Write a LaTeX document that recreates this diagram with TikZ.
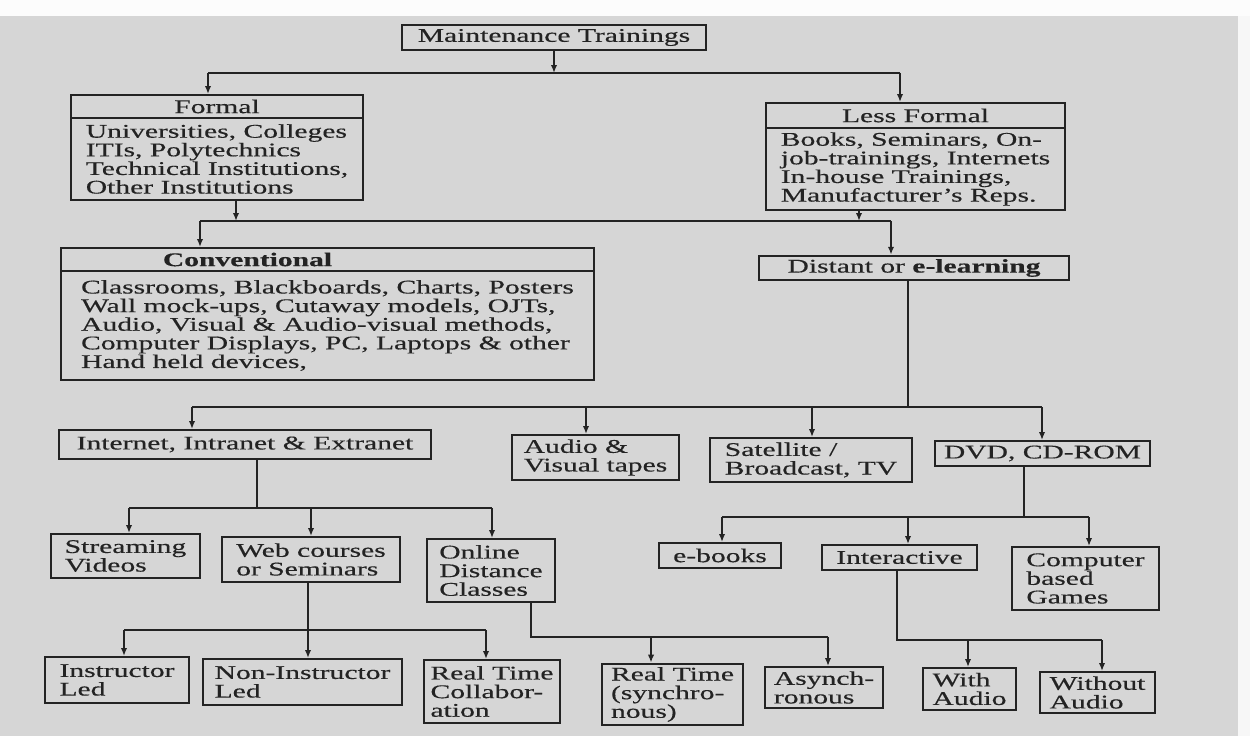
\documentclass[tikz,border=0pt]{standalone}
\usepackage{fontspec}
\setmainfont{Liberation Serif}[FakeStretch=1.53,FakeBold=0.4]
\usetikzlibrary{arrows.meta}
\definecolor{paper}{RGB}{214,214,214}
\definecolor{ink}{RGB}{35,35,35}

\begin{document}
\begin{tikzpicture}[x=0.02cm,y=-0.02cm,
  every node/.style={font=\fontsize{11}{10.6}\selectfont,text=ink},
  tbox/.style 2 args={draw=ink,line width=1.1pt,align=left,inner sep=2pt,
    minimum width=#1*0.02cm,minimum height=#2*0.02cm},
  link/.style={draw=ink,line width=1.1pt},
  arr/.style={link,-{Latex[length=4.5pt,width=3.6pt]}}]
\fill[paper] (0,0) rectangle (1250,736);
\fill[white!94!paper] (0,0) rectangle (1250,16);
\fill[white!80!paper] (1238,16) rectangle (1250,736);
\useasboundingbox (0,0) rectangle (1250,736);

\node[tbox={304}{25}] (mt) at (554,37.5) {Maintenance Trainings};

\node[tbox={292}{23}] (formal) at (217,106.5) {Formal};
\node[tbox={292}{82}] (formalbody) at (217,159) {Universities, Colleges\\ITIs, Polytechnics\\Technical Institutions,\\Other Institutions};
\node[tbox={299}{25}] (lessformal) at (915.5,115.5) {Less Formal};
\node[tbox={299}{82}] (lessformalbody) at (915.5,169) {Books, Seminars, On-\\job-trainings, Internets\\In-house Trainings,\\Manufacturer's Reps.};

\node[tbox={533}{23}] (conv) at (327.5,259.5) {\textbf{Conventional}\hspace*{3.2cm}};
\node[tbox={533}{109}] (convbody) at (327.5,325.5) {Classrooms, Blackboards, Charts, Posters\\Wall mock-ups, Cutaway models, OJTs,\\Audio, Visual \& Audio-visual methods,\\Computer Displays, PC, Laptops \& other\\Hand held devices,};
\node[tbox={310}{24}] (distant) at (914,268) {Distant or \textbf{e-learning}};

\node[tbox={372}{29}] (internet) at (245,444.5) {Internet, Intranet \& Extranet};
\node[tbox={167}{45}] (tapes) at (595.5,457.5) {Audio \&\\Visual tapes};
\node[tbox={202}{44}] (satellite) at (811,460) {Satellite /\\Broadcast, TV};
\node[tbox={215}{25}] (dvd) at (1042.5,453.5) {DVD, CD-ROM};

\node[tbox={149}{44}] (streaming) at (125.5,556) {Streaming\\Videos};
\node[tbox={178}{45}] (web) at (311,559.5) {Web courses\\or Seminars};
\node[tbox={128}{63}] (online) at (491,570.5) {Online\\Distance\\Classes};
\node[tbox={122}{25}] (ebooks) at (720,555.5) {e-books};
\node[tbox={155}{25}] (interactive) at (899.5,557.5) {Interactive};
\node[tbox={147}{63}] (games) at (1085.5,578.5) {Computer\\based\\Games};

\node[tbox={144}{46}] (instructor) at (117,680) {Instructor\\Led};
\node[tbox={199}{46}] (noninstructor) at (302.5,682) {Non-Instructor\\Led};
\node[tbox={136}{63}] (collab) at (492,691.5) {Real Time\\Collabor-\\ation};
\node[tbox={141}{61}] (synchro) at (672.5,694.5) {Real Time\\(synchro-\\nous)};
\node[tbox={118}{41}] (asynchro) at (824,687.5) {Asynch-\\ronous};
\node[tbox={93}{42}] (withaudio) at (969.5,689) {With\\Audio};
\node[tbox={115}{41}] (withoutaudio) at (1097.5,692.5) {Without\\Audio};

\coordinate (j1l) at (208,73);
\coordinate (j1r) at (900,73);
\draw[arr] (mt.south) -- (mt.south |- j1l);
\draw[link] (j1l) -- (j1r);
\draw[arr] (j1l) -- (j1l |- formal.north);
\draw[arr] (j1r) -- (j1r |- lessformal.north);

\coordinate (j2l) at (200,221);
\coordinate (j2r) at (891,221);
\coordinate (j2a) at (236,221);
\coordinate (j2b) at (859,221);
\draw[arr] (j2a |- formalbody.south) -- (j2a);
\draw[arr] (j2b |- lessformalbody.south) -- (j2b);
\draw[link] (j2l) -- (j2r);
\draw[arr] (j2l) -- (j2l |- conv.north);
\draw[arr] (j2r) -- (j2r |- distant.north);

\coordinate (j3l) at (192,407);
\coordinate (j3r) at (1042,407);
\coordinate (j3s) at (908,407);
\coordinate (j3a) at (586,407);
\coordinate (j3b) at (812,407);
\draw[link] (j3s |- distant.south) -- (j3s);
\draw[link] (j3l) -- (j3r);
\draw[arr] (j3l) -- (j3l |- internet.north);
\draw[arr] (j3a) -- (j3a |- tapes.north);
\draw[arr] (j3b) -- (j3b |- satellite.north);
\draw[arr] (j3r) -- (j3r |- dvd.north);

\coordinate (j4l) at (129,508);
\coordinate (j4r) at (492,508);
\coordinate (j4s) at (257,508);
\coordinate (j4m) at (311,508);
\draw[link] (j4s |- internet.south) -- (j4s);
\draw[link] (j4l) -- (j4r);
\draw[arr] (j4l) -- (j4l |- streaming.north);
\draw[arr] (j4m) -- (j4m |- web.north);
\draw[arr] (j4r) -- (j4r |- online.north);

\coordinate (j5l) at (124,630);
\coordinate (j5r) at (486,630);
\coordinate (j5s) at (308,630);
\draw[arr] (j5s |- web.south) -- (j5s |- noninstructor.north);
\draw[link] (j5l) -- (j5r);
\draw[arr] (j5l) -- (j5l |- instructor.north);
\draw[arr] (j5r) -- (j5r |- collab.north);

\coordinate (j6s) at (531,637);
\coordinate (j6a) at (651,637);
\coordinate (j6r) at (828,637);
\draw[link] (j6s |- online.south) -- (j6s) -- (j6r);
\draw[arr] (j6a) -- (j6a |- synchro.north);
\draw[arr] (j6r) -- (j6r |- asynchro.north);

\coordinate (j7l) at (722,517);
\coordinate (j7r) at (1089,517);
\coordinate (j7s) at (1024,517);
\coordinate (j7m) at (908,517);
\draw[link] (j7s |- dvd.south) -- (j7s);
\draw[link] (j7l) -- (j7r);
\draw[arr] (j7l) -- (j7l |- ebooks.north);
\draw[arr] (j7m) -- (j7m |- interactive.north);
\draw[arr] (j7r) -- (j7r |- games.north);

\coordinate (j8s) at (897,640);
\coordinate (j8a) at (968,640);
\coordinate (j8r) at (1102,640);
\draw[link] (j8s |- interactive.south) -- (j8s) -- (j8r);
\draw[arr] (j8a) -- (j8a |- withaudio.north);
\draw[arr] (j8r) -- (j8r |- withoutaudio.north);
\end{tikzpicture}
\end{document}
